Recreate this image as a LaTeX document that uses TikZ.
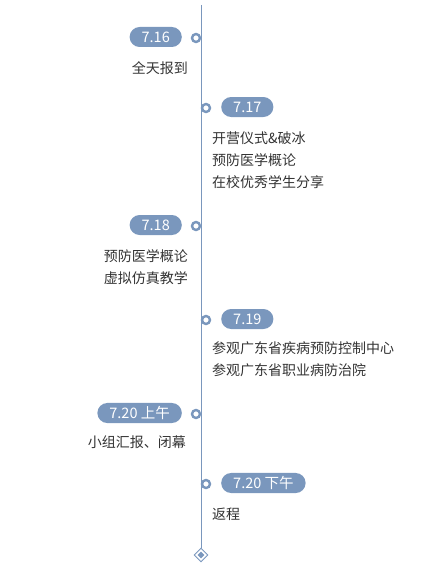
\documentclass[tikz,border=0pt]{standalone}
\usepackage{fontspec}
\setmainfont{Noto Sans CJK SC}
\usetikzlibrary{shapes.geometric}
\definecolor{tl}{HTML}{7A97BD}
\definecolor{tx}{HTML}{333333}
\tikzset{
  pill/.style={fill=tl, rounded corners=10pt, minimum height=20pt, minimum width=51pt, inner xsep=12pt, text=white, font=\fontsize{14.5}{15}\selectfont},
  dot/.style={circle, draw=tl, line width=2.4pt, fill=white, minimum size=8pt, inner sep=0pt},
  lbl/.style={text=tx, font=\fontsize{14}{22}\selectfont, inner sep=0pt},
}
\begin{document}
\begin{tikzpicture}[x=1pt,y=-1pt]
\useasboundingbox (0,0) rectangle (429,578);
\node[diamond, draw=tl, fill=white, line width=0.9pt, minimum size=14pt, inner sep=0pt] (end) at (201,555) {};
\node[diamond, fill=tl, minimum size=7pt, inner sep=0pt] (endin) at (201,555) {};
\coordinate (top) at (201,5);
\draw[tl, line width=1pt] (top) -- (end.north);
% 7.16
\node[dot] (d1) at (196,38) {};
\node[pill, anchor=east] (p1) at (182,37) {7.16};
\node[lbl, anchor=north east, align=right] (t1) at (188,61) {全天报到};
% 7.17
\node[dot] (d2) at (206,108) {};
\node[pill, anchor=west] (p2) at (221,107) {7.17};
\node[lbl, anchor=north west, align=left] (t2) at (212,131.5) {开营仪式\&破冰\\预防医学概论\\在校优秀学生分享};
% 7.18
\node[dot] (d3) at (196,226) {};
\node[pill, anchor=east] (p3) at (182,225) {7.18};
\node[lbl, anchor=north east, align=right] (t3) at (188,249) {预防医学概论\\虚拟仿真教学};
% 7.19
\node[dot] (d4) at (206,320) {};
\node[pill, anchor=west] (p4) at (221,319) {7.19};
\node[lbl, anchor=north west, align=left] (t4) at (212,341.5) {参观广东省疾病预防控制中心\\参观广东省职业病防治院};
% 7.20 am
\node[dot] (d5) at (196,414) {};
\node[pill, anchor=east] (p5) at (182,413) {7.20 上午};
\node[lbl, anchor=north east, align=right] (t5) at (186,436) {小组汇报、闭幕};
% 7.20 pm
\node[dot] (d6) at (206,484) {};
\node[pill, anchor=west] (p6) at (221,483) {7.20 下午};
\node[lbl, anchor=north west, align=left] (t6) at (212,508) {返程};
\end{tikzpicture}
\end{document}
